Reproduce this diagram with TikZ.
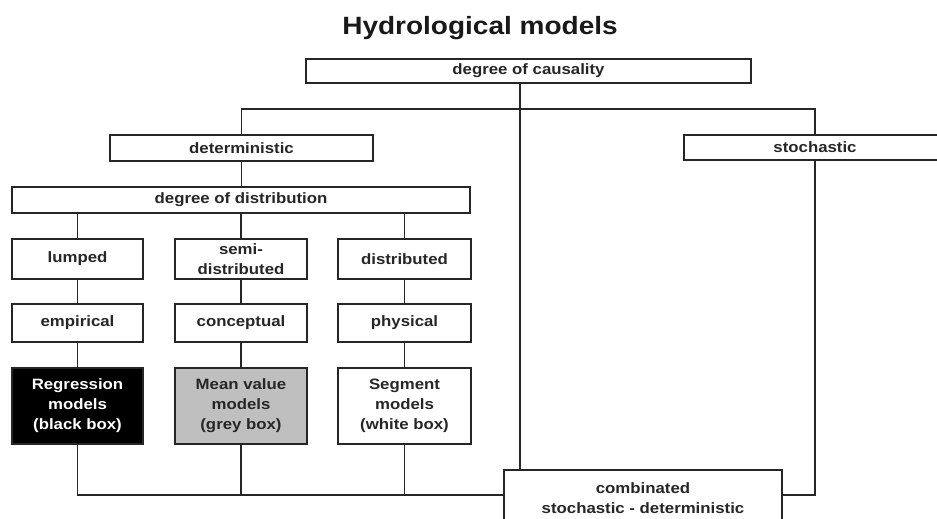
\documentclass[tikz,border=0pt]{standalone}
\usepackage{fontspec}
\setmainfont[FakeStretch=1.12]{Liberation Sans}
\begin{document}
\begin{tikzpicture}[x=1pt,y=-1pt,
  every node/.style={inner sep=0pt, outer sep=0pt},
  box/.style={draw=black!85, line width=1.2pt, fill=white, anchor=north west,
    font=\fontsize{15}{20}\selectfont\bfseries, text=black!85, align=center},
  conn/.style={draw=black!85, line width=1.2pt}]
\useasboundingbox (0,0) rectangle (937,519);
\begin{scope}
\clip (0,0) rectangle (937,519);
\node[anchor=base, font=\fontsize{25}{30}\selectfont\bfseries, text=black!90] (title) at (480,35) {Hydrological models};

\node[box, minimum width=445, minimum height=24] (caus) at (306,59) {degree of causality};
\node[box, minimum width=263, minimum height=26] (det) at (110,135) {deterministic};
\node[box, minimum width=262, minimum height=25] (stoch) at (684,135) {stochastic};
\node[box, minimum width=458, minimum height=26] (dist) at (12,187) {degree of distribution};

\node[box, minimum width=131, minimum height=40] (lump) at (12,239) {lumped};
\node[box, minimum width=132, minimum height=40] (semi) at (175,239) {semi-\\distributed};
\node[box, minimum width=133, minimum height=40] (distr) at (338,239) {distributed};

\node[box, minimum width=131, minimum height=38] (emp) at (12,304) {empirical};
\node[box, minimum width=132, minimum height=38] (conc) at (175,304) {conceptual};
\node[box, minimum width=133, minimum height=38] (phys) at (338,304) {physical};

\node[box, minimum width=131, minimum height=76, fill=black, text=white] (reg) at (12,368) {Regression\\models\\(black box)};
\node[box, minimum width=132, minimum height=76, fill=black!25] (mean) at (175,368) {Mean value\\models\\(grey box)};
\node[box, minimum width=133, minimum height=76] (seg) at (338,368) {Segment\\models\\(white box)};

\node[box, minimum width=278, minimum height=56] (comb) at (504,470) {combinated\\stochastic - deterministic};

\coordinate (jx) at (520,0);
\coordinate (hy) at (0,109);
\coordinate (by) at (0,495);

\draw[conn] (caus.south -| jx) -- (comb.north -| jx);
\draw[conn] (det.north) -- (det.north |- hy) -- (stoch.north |- hy) -- (stoch.north);
\draw[conn] (det.south) -- (det.south |- dist.north);
\draw[conn] (lump.north |- dist.south) -- (lump.north);
\draw[conn] (semi.north |- dist.south) -- (semi.north);
\draw[conn] (distr.north |- dist.south) -- (distr.north);
\draw[conn] (lump.south) -- (emp.north);
\draw[conn] (semi.south) -- (conc.north);
\draw[conn] (distr.south) -- (phys.north);
\draw[conn] (emp.south) -- (reg.north);
\draw[conn] (conc.south) -- (mean.north);
\draw[conn] (phys.south) -- (seg.north);
\draw[conn] (reg.south) -- (reg.south |- by) -- (comb.west |- by);
\draw[conn] (mean.south) -- (mean.south |- by);
\draw[conn] (seg.south) -- (seg.south |- by);
\draw[conn] (stoch.south) -- (stoch.south |- by) -- (comb.east |- by);
\end{scope}
\end{tikzpicture}
\end{document}
